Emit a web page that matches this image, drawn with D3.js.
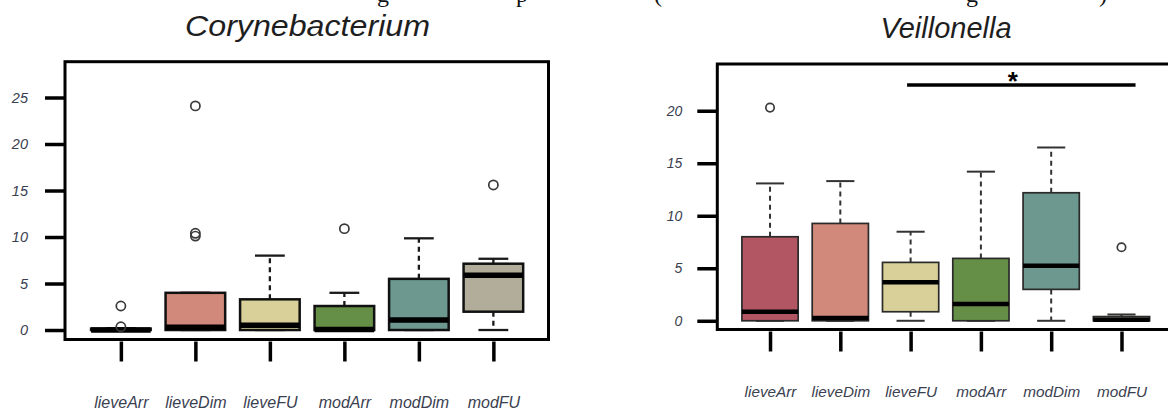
<!DOCTYPE html>
<html>
<head>
<meta charset="utf-8">
<script src="https://cdn.jsdelivr.net/npm/d3@7"></script>
<style>
  body { margin: 0; background: #fff; }
  svg { display: block; }
</style>
</head>
<body>
<svg id="chart" width="1168" height="415"></svg>
<script>
// groups on the x axis, same for both panels
const groups = ["lieveArr", "lieveDim", "lieveFU", "modArr", "modDim", "modFU"];
const boxColors = ["#b35664", "#d0897a", "#d9cf98", "#658e47", "#6c9890", "#b1ad9a"];

// Corynebacterium (left panel)
const coryLow     = [0,    0,   0,   0,    0,    0];
const coryQ1      = [0,    0,   0,   0,    0,    1.97];
const coryMedian  = [0,    0.3, 0.5, 0.05, 1.07, 5.9];
const coryQ3      = [0.15, 4.0, 3.3, 2.58, 5.5,  7.13];
const coryHigh    = [0.2,  4.0, 8.0, 4.0,  9.86, 7.66];
const coryOutliers = [[2.58, 0.35], [24.1, 10.4, 10.1], [], [10.9], [], [15.6]];
const coryTicks = [0, 5, 10, 15, 20, 25];

// Veillonella (right panel)
const veilLow     = [0,     0,    0,    0,    0,     0];
const veilQ1      = [0,     0,    0.86, 0,    2.99,  0];
const veilMedian  = [0.86,  0.26, 3.66, 1.59, 5.24,  0.1];
const veilQ3      = [8.0,   9.27, 5.56, 5.94, 12.19, 0.4];
const veilHigh    = [13.08, 13.3, 8.48, 14.2, 16.5,  0.6];
const veilOutliers = [[20.3], [], [], [], [], [7.0]];
const veilTicks = [0, 5, 10, 15, 20];
// significance bar: from group 3 (lieveFU) to past group 6 (modFU)
const veilSigFrom = 2.95, veilSigTo = 6.2, veilSigLevel = 22.45;
const veilSigLabel = "*";

const svg = d3.select("#chart");
const font = "'Liberation Sans', Arial, Helvetica, sans-serif";

// cut-off caption line from the page above the figure (only descenders show)
const topLine = svg.append("g")
    .style("font-family", "'Liberation Serif', 'Times New Roman', serif")
    .style("font-size", "24px")
    .attr("fill", "#111");
[["g", 383], ["p", 522], ["(", 658], ["g", 972], [")", 1103]].forEach(([ch, cx]) => {
    topLine.append("text").attr("x", cx).attr("y", 2).attr("text-anchor", "middle").text(ch);
});

function drawPanel(p) {
    const x = d3.scaleLinear().domain([0.25, 6.74]).range([p.left, p.right]);
    const y = d3.scaleLinear().domain(p.yDomain).range([p.bottom, p.top]);
    const half = 0.4, capHalf = 0.2;

    const stats = groups.map((name, i) => ({
        name, pos: i + 1, color: boxColors[i],
        lo: p.low[i], q1: p.q1[i], med: p.median[i], q3: p.q3[i], hi: p.high[i],
        out: p.outliers[i]
    }));

    const g = svg.append("g");

    // title
    const title = g.append("text")
        .attr("x", p.titleX).attr("y", p.titleY)
        .attr("text-anchor", "middle")
        .style("font-family", font).style("font-style", "italic")
        .style("font-size", p.titleSize + "px")
        .attr("fill", "#1e1e1e")
        .text(p.title);
    if (p.titleLength) title.attr("textLength", p.titleLength).attr("lengthAdjust", "spacingAndGlyphs");

    // whiskers (dashed)
    const wh = g.append("g").attr("stroke", p.whiskerColor).attr("stroke-width", p.whiskerWidth)
        .attr("stroke-dasharray", "5,4");
    wh.selectAll("line.up").data(stats).join("line").attr("class", "up")
        .attr("x1", d => x(d.pos)).attr("x2", d => x(d.pos))
        .attr("y1", d => y(d.q3)).attr("y2", d => y(d.hi));
    wh.selectAll("line.dn").data(stats).join("line").attr("class", "dn")
        .attr("x1", d => x(d.pos)).attr("x2", d => x(d.pos))
        .attr("y1", d => y(d.q1)).attr("y2", d => y(d.lo));

    // caps
    const caps = g.append("g").attr("stroke", p.whiskerColor).attr("stroke-width", p.whiskerWidth);
    caps.selectAll("line.hi").data(stats).join("line").attr("class", "hi")
        .attr("x1", d => x(d.pos - capHalf)).attr("x2", d => x(d.pos + capHalf))
        .attr("y1", d => y(d.hi)).attr("y2", d => y(d.hi));
    caps.selectAll("line.lo").data(stats).join("line").attr("class", "lo")
        .attr("x1", d => x(d.pos - capHalf)).attr("x2", d => x(d.pos + capHalf))
        .attr("y1", d => y(d.lo)).attr("y2", d => y(d.lo));

    // boxes
    g.append("g").selectAll("rect").data(stats).join("rect")
        .attr("x", d => x(d.pos - half))
        .attr("width", d => x(d.pos + half) - x(d.pos - half))
        .attr("y", d => y(d.q3))
        .attr("height", d => y(d.q1) - y(d.q3))
        .attr("fill", d => d.color)
        .attr("stroke", p.boxStroke).attr("stroke-width", p.boxWidth);

    // medians
    g.append("g").selectAll("line").data(stats).join("line")
        .attr("x1", d => x(d.pos - half)).attr("x2", d => x(d.pos + half))
        .attr("y1", d => y(d.med)).attr("y2", d => y(d.med))
        .attr("stroke", "#000").attr("stroke-width", p.medianWidth);

    // outliers
    const outs = stats.flatMap(d => d.out.map(v => ({ pos: d.pos, v })));
    g.append("g").selectAll("circle").data(outs).join("circle")
        .attr("cx", d => x(d.pos)).attr("cy", d => y(d.v)).attr("r", p.outR)
        .attr("fill", "none").attr("stroke", "#3a3a3a").attr("stroke-width", 1.7);

    // significance bar
    if (p.sig) {
        g.append("line")
            .attr("x1", x(p.sig.from)).attr("x2", x(p.sig.to))
            .attr("y1", y(p.sig.level)).attr("y2", y(p.sig.level))
            .attr("stroke", "#000").attr("stroke-width", 3.5);
        g.append("text")
            .attr("x", x((p.sig.from + p.sig.to) / 2 - 0.12)).attr("y", y(p.sig.level) + 5)
            .attr("text-anchor", "middle")
            .style("font-family", font).style("font-size", "26px").style("font-weight", "bold")
            .attr("fill", "#000").text(p.sig.label);
    }

    // frame
    g.append("rect")
        .attr("x", p.left).attr("y", p.top)
        .attr("width", p.right - p.left).attr("height", p.bottom - p.top)
        .attr("fill", "none").attr("stroke", "#000").attr("stroke-width", 3);

    // y axis
    const yAxis = g.append("g")
        .attr("transform", `translate(${p.left},0)`)
        .call(d3.axisLeft(y).tickValues(p.ticks).tickSize(20).tickSizeOuter(0).tickPadding(p.yPad));
    yAxis.select(".domain").remove();
    yAxis.selectAll(".tick line").attr("stroke", "#000").attr("stroke-width", 3.5);
    yAxis.selectAll(".tick text")
        .style("font-family", font).style("font-style", "italic")
        .style("font-size", p.yFont + "px").attr("fill", "#3a4050");

    // x axis
    const xAxis = g.append("g")
        .attr("transform", `translate(0,${p.bottom + 2})`)
        .call(d3.axisBottom(x).tickValues(stats.map(d => d.pos))
            .tickFormat((d, i) => groups[i]).tickSize(20).tickSizeOuter(0).tickPadding(p.xPad));
    xAxis.select(".domain").remove();
    xAxis.selectAll(".tick line").attr("stroke", "#000").attr("stroke-width", 3.5);
    xAxis.selectAll(".tick text")
        .style("font-family", font).style("font-style", "italic")
        .style("font-size", p.xFont + "px").attr("fill", "#3a4050");
}

drawPanel({
    title: "Corynebacterium", titleX: 307.5, titleY: 36, titleSize: 29, titleLength: 245,
    left: 65, right: 548.5, top: 61.7, bottom: 339.5, yDomain: [-1.02, 28.85],
    low: coryLow, q1: coryQ1, median: coryMedian, q3: coryQ3, high: coryHigh, outliers: coryOutliers,
    ticks: coryTicks, yPad: 17, yFont: 14.5, xPad: 35, xFont: 16,
    boxStroke: "#111", boxWidth: 2.5, medianWidth: 5.5, whiskerColor: "#1a1a1a", whiskerWidth: 2.3, outR: 4.6
});

drawPanel({
    title: "Veillonella", titleX: 946, titleY: 38, titleSize: 29,
    left: 717.3, right: 1173.5, top: 64, bottom: 329.5, yDomain: [-0.83, 24.45],
    low: veilLow, q1: veilQ1, median: veilMedian, q3: veilQ3, high: veilHigh, outliers: veilOutliers,
    ticks: veilTicks, yPad: 15, yFont: 14, xPad: 35, xFont: 15.3,
    boxStroke: "#2a2a2a", boxWidth: 1.7, medianWidth: 4.5, whiskerColor: "#333", whiskerWidth: 2, outR: 4.2,
    sig: { from: veilSigFrom, to: veilSigTo, level: veilSigLevel, label: veilSigLabel }
});
</script>
</body>
</html>
